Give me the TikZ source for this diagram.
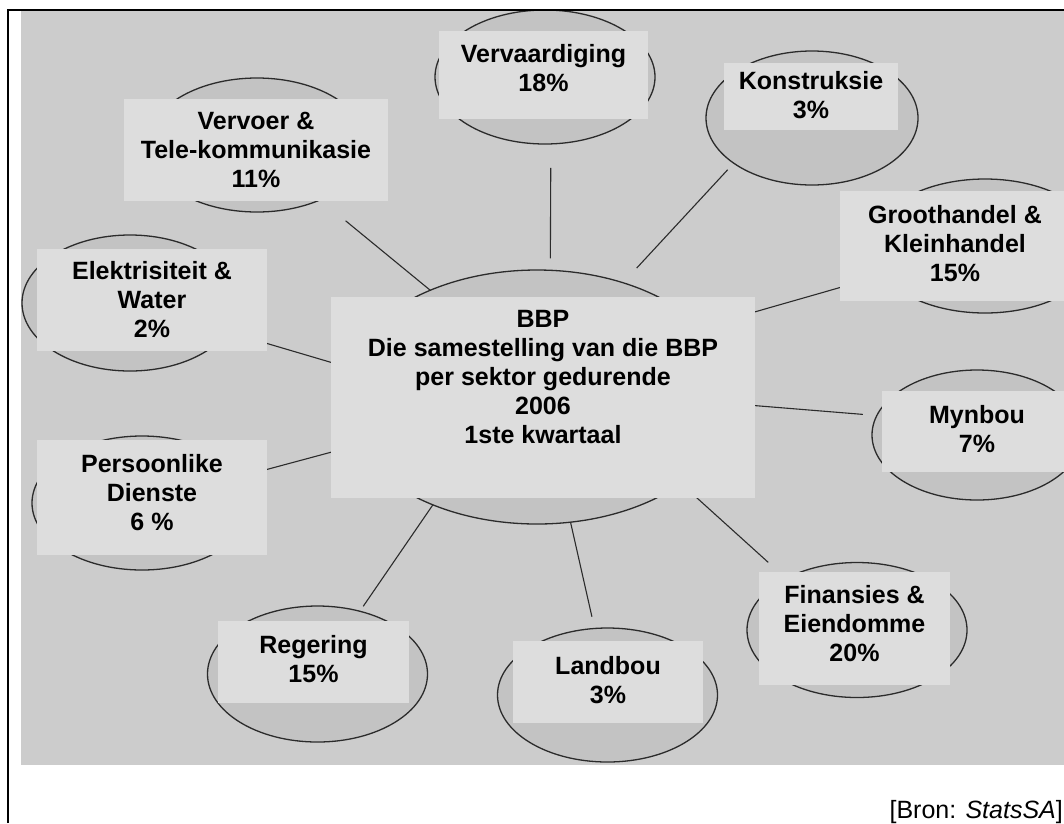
\documentclass[tikz,border=0pt]{standalone}
\usepackage{fontspec}
\setmainfont{Liberation Sans}
\usepackage{xcolor}
\definecolor{grysagter}{HTML}{CCCCCC}
\definecolor{grysovaal}{HTML}{C3C3C3}
\definecolor{gryskas}{HTML}{DDDDDD}
\definecolor{donkerlyn}{HTML}{2B2B2B}
\usetikzlibrary{shapes.geometric, calc}

\begin{document}
\begin{tikzpicture}[
  x=1pt, y=-1pt,
  ovaal/.style={
    ellipse, draw=donkerlyn, fill=grysovaal, line width=1.3pt,
    inner sep=0pt, outer sep=0pt,
    minimum width=220pt, minimum height=134pt
  },
  kas/.style={rectangle, fill=gryskas, inner sep=0pt, outer sep=0pt},
  teks/.style={
    align=center, inner sep=0pt,
    font=\fontsize{25}{29}\selectfont\bfseries
  },
  lyn/.style={draw=donkerlyn, line width=1.1pt}
]
  \useasboundingbox (0,0) rectangle (1064,823);
  \fill[grysagter] (21,11) rectangle (1064,765);

  % ovale
  \node[ovaal, minimum width=394pt, minimum height=254pt] (bbp) at (537,397) {};
  \node[ovaal] (ver) at (545,77) {};
  \node[ovaal] (vt)  at (257,145) {};
  \node[ovaal, minimum width=212pt] (kon) at (812,118) {};
  \node[ovaal, minimum width=228pt] (gro) at (985,246) {};
  \node[ovaal, minimum width=210pt, minimum height=130pt] (myn) at (977,435) {};
  \node[ovaal, minimum height=135pt] (fin) at (857,630) {};
  \node[ovaal] (lan) at (607.5,695) {};
  \node[ovaal, minimum height=136pt] (reg) at (317.5,674) {};
  \node[ovaal] (per) at (142,503) {};
  \node[ovaal, minimum width=216pt, minimum height=136pt] (ele) at (130,303) {};

  % lyne
  \draw[lyn, shorten >=33pt] (bbp.135) -- (vt.-41);
  \draw[lyn, shorten <=12pt, shorten >=24pt] (bbp.84) -- (ver.-85);
  \draw[lyn, shorten <=20pt, shorten >=9pt] (bbp.53) -- (kon.210);
  \draw[lyn] (bbp.23) -- (gro);
  \draw[lyn, shorten >=14pt] (bbp.-2) -- (myn.169);
  \draw[lyn, shorten >=24pt] (bbp.-31) -- (fin.144);
  \draw[lyn, shorten >=12pt] (bbp.-75) -- (lan.101);
  \draw[lyn, shorten >=6pt] (bbp.226) -- (reg.56);
  \draw[lyn] (bbp.195) -- (per);
  \draw[lyn] (bbp.171) -- (ele);

  % kaste
  \node[kas, minimum width=424pt, minimum height=201pt] (bbpkas) at (543,397.5) {};
  \node[kas, minimum width=209pt, minimum height=88pt]  (verkas) at (543.5,75) {};
  \node[kas, minimum width=264pt, minimum height=102pt] (vtkas)  at (256,150) {};
  \node[kas, minimum width=174pt, minimum height=67pt]  (konkas) at (811,96.5) {};
  \node[kas, minimum width=230pt, minimum height=110pt] (grokas) at (955,246) {};
  \node[kas, minimum width=190pt, minimum height=81pt]  (mynkas) at (977,431.5) {};
  \node[kas, minimum width=191pt, minimum height=113pt] (finkas) at (854.5,628.5) {};
  \node[kas, minimum width=190pt, minimum height=82pt]  (lankas) at (608,682) {};
  \node[kas, minimum width=191pt, minimum height=82pt]  (regkas) at (313.5,662) {};
  \node[kas, minimum width=230pt, minimum height=115pt] (perkas) at (152,497.5) {};
  \node[kas, minimum width=230pt, minimum height=102pt] (elekas) at (152,300) {};

  \node[teks] (bbpteks) at ([yshift=20pt]bbpkas.center)
    {BBP\\Die samestelling van die BBP\\per sektor gedurende\\2006\\1ste kwartaal};
  \node[teks] (verteks) at ([yshift=6.5pt]verkas.center) {Vervaardiging\\18\%};
  \node[teks] (vtteks)  at (vtkas.center) {Vervoer \&\\Tele-kommunikasie\\11\%};
  \node[teks] (konteks) at ([yshift=1pt]konkas.center) {Konstruksie\\3\%};
  \node[teks] (groteks) at ([yshift=2.5pt]grokas.center) {Groothandel \&\\Kleinhandel\\15\%};
  \node[teks] (mynteks) at ([yshift=2.5pt]mynkas.center) {Mynbou\\7\%};
  \node[teks] (finteks) at ([yshift=4.5pt]finkas.center) {Finansies \&\\Eiendomme\\20\%};
  \node[teks] (lanteks) at ([yshift=2pt]lankas.center) {Landbou\\3\%};
  \node[teks] (regteks) at ([yshift=3pt]regkas.center) {Regering\\15\%};
  \node[teks] (perteks) at ([yshift=4.5pt]perkas.center) {Persoonlike\\Dienste\\6 \%};
  \node[teks] (eleteks) at (elekas.center) {Elektrisiteit \&\\Water\\2\%};

  \node[font=\fontsize{25}{29}\selectfont, anchor=base east, inner sep=0pt]
    (bron) at (1063,818) {[Bron: \textit{StatsSA}]};

  % raam
  \draw[line width=2pt] (8,823) -- (8,10.3) -- (1064,10.3);
\end{tikzpicture}
\end{document}
